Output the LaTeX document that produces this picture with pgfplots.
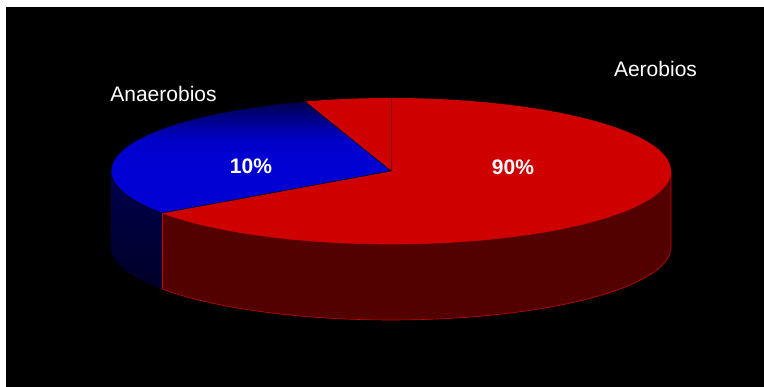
\documentclass[border=0pt]{standalone}
\usepackage{pgfplots}
\pgfplotsset{compat=1.18}
\usetikzlibrary{calc}
\usepackage{fontspec}
\setmainfont{Liberation Sans}
\definecolor{redtop}{RGB}{206,0,0}
\definecolor{redside}{RGB}{82,0,0}
\definecolor{redline}{RGB}{120,0,0}
\definecolor{bluesideA}{RGB}{0,0,78}
\definecolor{bluesideB}{RGB}{0,0,38}
\pgfdeclareverticalshading{bluetop}{100bp}{%
  rgb(0bp)=(0,0,0.84); rgb(50bp)=(0,0,0.82); rgb(57bp)=(0,0,0.80);
  rgb(65bp)=(0,0,0.60); rgb(75bp)=(0,0,0.30); rgb(100bp)=(0,0,0.30)}
% slice data: label value (%), start and end angle on the drawn ellipse
% Aerobios   90%   215.2 -> 450
% Anaerobios 10%   107.9 -> 215.2
\begin{document}
\begin{tikzpicture}
\begin{axis}[width=764pt,height=387pt,scale only axis,
  xmin=0,xmax=764,ymin=0,ymax=387,hide axis,clip=false]
\fill[white] (axis cs:0,0) rectangle (axis cs:764,387);
\fill[black] (axis cs:6,0) rectangle (axis cs:764,380);
\coordinate (C) at (axis cs:391,216);
% side faces
\filldraw[fill=redside,draw=redtop,line width=0.6pt]
  ($(C)+(215.2:280pt and 73pt)$) arc[start angle=215.2,end angle=360,x radius=280pt,y radius=73pt]
  -- ++(0pt,-76pt) arc[start angle=360,end angle=215.2,x radius=280pt,y radius=73pt] -- cycle;
\shade[top color=bluesideA,bottom color=bluesideB]
  ($(C)+(180:280pt and 73pt)$) arc[start angle=180,end angle=215.2,x radius=280pt,y radius=73pt]
  -- ++(0pt,-76pt) arc[start angle=215.2,end angle=180,x radius=280pt,y radius=73pt] -- cycle;
\draw[redtop,line width=0.6pt] ($(C)+(215.2:280pt and 73pt)$) -- ++(0pt,-76pt);
% top faces
\fill[redtop] (C) -- ($(C)+(215.2:280pt and 73pt)$)
  arc[start angle=215.2,end angle=450,x radius=280pt,y radius=73pt] -- cycle;
\fill[redtop] (C) -- ($(C)+(90:280pt and 73pt)$)
  arc[start angle=90,end angle=107.9,x radius=280pt,y radius=73pt] -- cycle;
\draw[redline,line width=0.5pt] (C) -- ($(C)+(90:280pt and 73pt)$);
\shadedraw[shading=bluetop,draw=black,line width=0.5pt]
  (C) -- ($(C)+(107.9:280pt and 73pt)$)
  arc[start angle=107.9,end angle=215.2,x radius=280pt,y radius=73pt] -- cycle;
% labels
\node[white,anchor=base,inner sep=0pt,font=\fontsize{21}{25}\selectfont] at (axis cs:655.5,310) {Aerobios};
\node[white,anchor=base,inner sep=0pt,font=\fontsize{21}{25}\selectfont] at (axis cs:163.5,285) {Anaerobios};
\node[white,anchor=base,inner sep=0pt,font=\fontsize{21}{25}\selectfont\bfseries] at (axis cs:251,213) {10\%};
\node[white,anchor=base,inner sep=0pt,font=\fontsize{21}{25}\selectfont\bfseries] at (axis cs:513,212) {90\%};
\end{axis}
\end{tikzpicture}
\end{document}
